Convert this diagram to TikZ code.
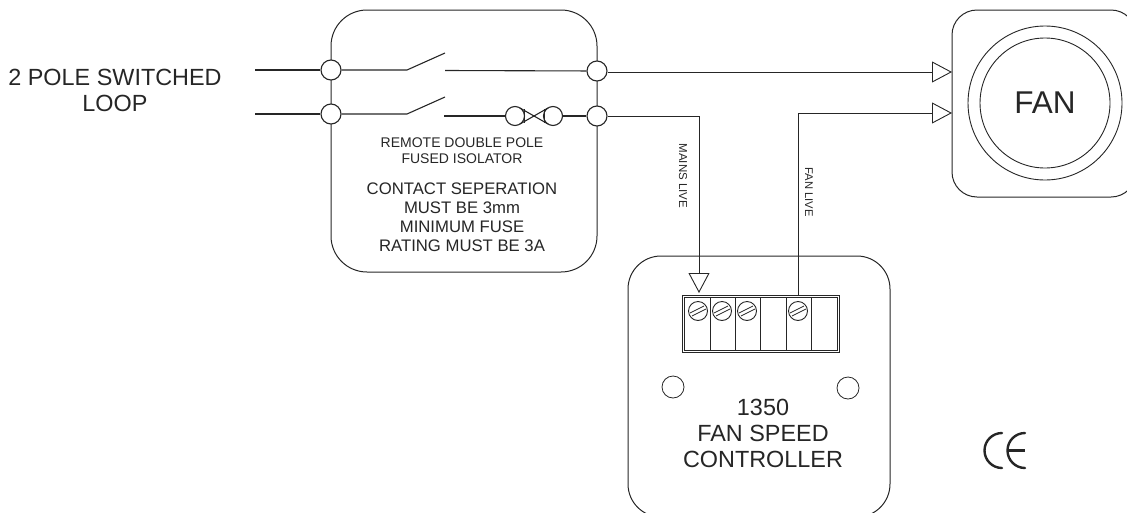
\documentclass[tikz,border=0pt]{standalone}
\usepackage{fontspec}
\setmainfont{Liberation Sans}
\usetikzlibrary{arrows.meta}
\definecolor{ink}{gray}{0.15}
\newcommand{\fs}[1]{\fontsize{#1}{#1}\selectfont}
\tikzset{
  x=1pt,y=-1pt,
  wire/.style={draw=ink,line width=1.1pt},
  thin wire/.style={draw=ink,line width=0.9pt},
  box/.style={draw=ink,line width=1pt},
  term/.style={circle,draw=ink,fill=white,line width=1.1pt,minimum size=20pt,inner sep=0pt},
  fusec/.style={circle,draw=ink,line width=1.1pt,fill=white,minimum size=19pt,inner sep=0pt},
  hole/.style={circle,draw=ink,line width=0.8pt,minimum size=22pt,inner sep=0pt},
  screw/.style={circle,draw=ink,line width=0.9pt,minimum size=19pt,inner sep=0pt},
  label/.style={text=ink,inner sep=0pt,align=center},
  open tip/.style={-{Triangle[open,length=20pt,width=21pt,line width=0.9pt]}},
}
\begin{document}
\begin{tikzpicture}
\clip (0,0) rectangle (1127,512);
% enclosures
\draw[box,rounded corners=36pt] (331,10) rectangle (597,272);
\draw[box,rounded corners=25pt] (952,10) rectangle (1136,197);
\draw[box,rounded corners=33pt] (628,256) rectangle (890,517);
% coordinates
\coordinate (inA) at (255,70);
\coordinate (inB) at (255,114);
\coordinate (swAo) at (407,70);
\coordinate (swAt) at (445,53);
\coordinate (swAc) at (445,70.5);
\coordinate (swBo) at (407,114);
\coordinate (swBt) at (445,97);
\coordinate (swBc) at (444,116);
\coordinate (fanA) at (952,72);
\coordinate (fanB) at (952,113);
\coordinate (mainsC) at (699,116);
\coordinate (mainsE) at (699,293);
\coordinate (fanC) at (798,113);
\coordinate (fanE) at (798,295);
% terminals
\node[term] (tA) at (331,70) {};
\node[term] (tB) at (331,114) {};
\node[term] (tC) at (597,71) {};
\node[term] (tD) at (597,116) {};
\node[fusec] (fuL) at (515,116) {};
\node[fusec] (fuR) at (553,116) {};
% wires
\draw[wire] (inA) -- (tA);
\draw[wire] (inB) -- (tB);
\draw[wire] (tA) -- (swAo) -- (swAt);
\draw[wire] (tB) -- (swBo) -- (swBt);
\draw[wire] (swAc) -- (tC);
\draw[wire] (swBc) -- (fuL);
\draw[wire] (fuR) -- (tD);
\draw[wire] (520,108) -- (548,124);
\draw[wire] (520,124) -- (548,108);
\draw[thin wire] (524,109) -- (524,123);
\draw[thin wire] (544,109) -- (544,123);
\draw[thin wire,open tip] (tC.east |- fanA) -- (fanA);
\draw[thin wire,open tip] (tD) -- (mainsC) -- (mainsE);
\draw[thin wire,open tip] (fanE) -- (fanC) -- (fanB);
% fan
\node[circle,draw=ink,line width=0.9pt,minimum size=154pt,inner sep=0pt] (fanO) at (1045,103) {};
\node[circle,draw=ink,line width=0.9pt,minimum size=130pt,inner sep=0pt] (fanI) at (1045,103) {};
\node[label] (fanT) at (1045,103) {\fs{31.5}FAN};
% terminal block
\node[draw=ink,line width=0.9pt,minimum width=157pt,minimum height=57pt,inner sep=0pt] (block) at (760.5,323.5) {};
\draw[thin wire] (684,297) rectangle (837,350);
\foreach \x in {710,735,760,786,811} \draw[thin wire] (\x,297) -- (\x,350);
\foreach \n/\x in {sa/698,sb/722,sc/747,sd/798}{
  \node[screw] (\n) at (\x,311) {};
  \draw[draw=ink,line width=0.8pt] (\x-8,311+2) -- (\x+6,311-5);
  \draw[draw=ink,line width=0.8pt] (\x-6,311+5) -- (\x+8,311-2);
}
\node[hole] (hL) at (673,387) {};
\node[hole] (hR) at (848,388) {};
% CE
\draw[draw=ink,line width=2.4pt,line cap=round] (1002,433) arc[start angle=-90,end angle=-270,radius=17.5];
\draw[draw=ink,line width=2.4pt,line cap=round] (1025,433) arc[start angle=-90,end angle=-270,radius=17.5];
\draw[draw=ink,line width=2.4pt] (1007.5,450.5) -- (1025,450.5);
% text
\node[label] (l1) at (115,77) {\fs{23.4}2 POLE SWITCHED};
\node[label] (l2) at (115,103) {\fs{23.4}LOOP};
\node[label] (i1) at (462,143) {\fs{14}REMOTE DOUBLE POLE};
\node[label] (i2) at (462,158.5) {\fs{14}FUSED ISOLATOR};
\node[label] (i3) at (462,189) {\fs{16.7}CONTACT SEPERATION};
\node[label] (i4) at (462,208) {\fs{16.7}MUST BE 3mm};
\node[label] (i5) at (462,227) {\fs{16.7}MINIMUM FUSE};
\node[label] (i6) at (462,246) {\fs{16.7}RATING MUST BE 3A};
\node[label,rotate=-90] (ml) at (683,176) {\fs{11.5}MAINS LIVE};
\node[label,rotate=-90] (fl) at (809,192) {\fs{11.2}FAN LIVE};
\node[label] (c1) at (763,407) {\fs{23.4}1350};
\node[label] (c2) at (763,433) {\fs{23.4}FAN SPEED};
\node[label] (c3) at (763,459) {\fs{23.4}CONTROLLER};
\end{tikzpicture}
\end{document}
